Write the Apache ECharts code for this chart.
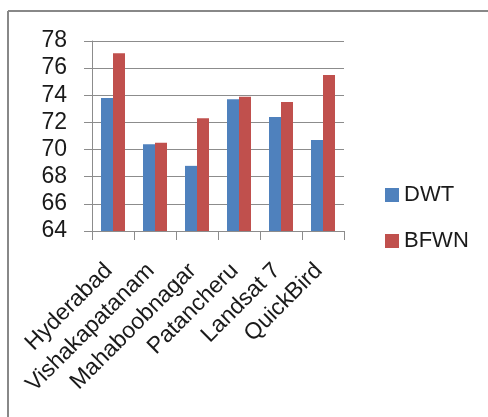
<!DOCTYPE html>
<html>
<head>
<meta charset="utf-8">
<script src="https://cdn.jsdelivr.net/npm/echarts@6/dist/echarts.min.js"></script>
<style>
  html, body { margin: 0; padding: 0; background: #ffffff; }
  #chart { width: 488px; height: 417px; }
</style>
</head>
<body>
<div id="chart"></div>
<script>
// Sites / sensors compared
const categories = ['Hyderabad', 'Vishakapatanam', 'Mahaboobnagar', 'Patancheru', 'Landsat 7', 'QuickBird'];
// Scores for each fusion method
const dwtValues = [73.8, 70.4, 68.8, 73.7, 72.4, 70.7];
const bfwnValues = [77.1, 70.5, 72.3, 73.9, 73.5, 75.5];
// Value axis range
const yMin = 64, yMax = 78, yStep = 2;

const FONT = 'Liberation Sans';
const GRID_GRAY = '#8c8c8c';

const chart = echarts.init(document.getElementById('chart'), null, { renderer: 'canvas' });

chart.setOption({
  backgroundColor: '#ffffff',
  animation: false,
  // chart frame: top and left edges only
  graphic: [
    { type: 'line', shape: { x1: 8, y1: 11, x2: 488, y2: 11 }, style: { stroke: '#888888', lineWidth: 2 } },
    { type: 'line', shape: { x1: 8, y1: 11, x2: 8, y2: 417 }, style: { stroke: '#888888', lineWidth: 2 } }
  ],
  grid: { left: 92, right: 144, top: 41, bottom: 186, containLabel: false },
  legend: {
    orient: 'vertical',
    left: 380,
    top: 179,
    itemWidth: 14,
    itemHeight: 14,
    itemGap: 24,
    icon: 'rect',
    textStyle: { fontFamily: FONT, fontSize: 22, color: '#1a1a1a' },
    data: ['DWT', 'BFWN']
  },
  xAxis: {
    type: 'category',
    data: categories,
    axisLine: { show: true, lineStyle: { color: GRID_GRAY, width: 1 } },
    axisTick: { show: true, alignWithLabel: false, length: 9, lineStyle: { color: GRID_GRAY } },
    axisLabel: {
      rotate: 45,
      interval: 0,
      margin: 32,
      padding: [0, 6, 0, 0],
      fontFamily: FONT,
      fontSize: 23,
      color: '#1a1a1a'
    },
    splitLine: { show: false }
  },
  yAxis: {
    type: 'value',
    min: yMin,
    max: yMax,
    interval: yStep,
    axisLine: { show: true, lineStyle: { color: GRID_GRAY, width: 1 } },
    axisTick: { show: true, length: 8, lineStyle: { color: GRID_GRAY } },
    axisLabel: { margin: 25, fontFamily: FONT, fontSize: 23, color: '#1a1a1a' },
    splitLine: { show: true, lineStyle: { color: GRID_GRAY, width: 1 } }
  },
  series: [
    {
      name: 'DWT',
      type: 'bar',
      data: dwtValues,
      barWidth: 12,
      barGap: '0%',
      itemStyle: { color: '#4f81bd' }
    },
    {
      name: 'BFWN',
      type: 'bar',
      data: bfwnValues,
      barWidth: 12,
      barGap: '0%',
      itemStyle: { color: '#c0504d' }
    }
  ]
});
</script>
</body>
</html>
